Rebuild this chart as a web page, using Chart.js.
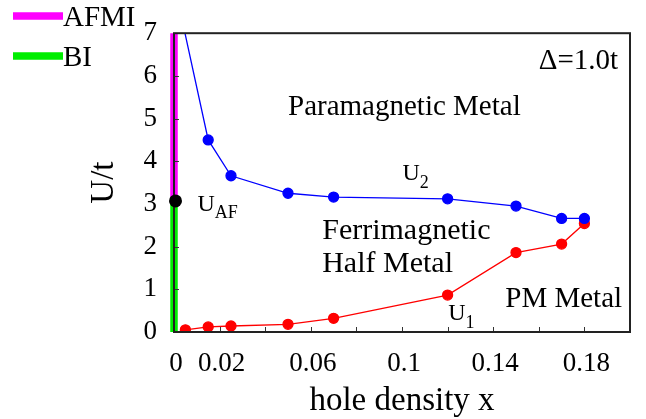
<!DOCTYPE html>
<html>
<head>
<meta charset="utf-8">
<script src="https://cdn.jsdelivr.net/npm/chart.js@4/dist/chart.umd.min.js"></script>
<style>
html,body{margin:0;padding:0;background:#fff;}
#wrap{width:646px;height:419px;}
</style>
</head>
<body>
<div id="wrap"><canvas id="c" width="646" height="419"></canvas></div>
<script>
// ---- data ----
const holeU2 = [0.004, 0.015, 0.025, 0.05, 0.07, 0.12, 0.15, 0.17, 0.18];
const valU2  = [7.2, 4.5, 3.66, 3.25, 3.16, 3.12, 2.95, 2.66, 2.66];
const holeU1 = [0.005, 0.015, 0.025, 0.05, 0.07, 0.12, 0.15, 0.17, 0.18];
const valU1  = [0.05, 0.12, 0.14, 0.18, 0.32, 0.865, 1.86, 2.06, 2.54];
const uAF = 3.07;
const uMax = 7;
const xTickValues = [0, 0.02, 0.04, 0.06, 0.08, 0.1, 0.12, 0.14, 0.16, 0.18, 0.2];
const xTickLabels = ['0', '0.02', '0.06', '0.1', '0.14', '0.18'];
const yTickValues = [0, 1, 2, 3, 4, 5, 6, 7];

const FONT = "'Liberation Serif', 'Times New Roman', serif";

const toPts = (xs, ys) => xs.map((x, i) => ({x: x, y: ys[i]}));

const frameAndText = {
  id: 'frameAndText',
  afterDatasetsDraw(chart) {
    const {ctx, chartArea: a, scales: {x, y}} = chart;
    ctx.save();
    // inward ticks
    ctx.strokeStyle = '#333';
    ctx.lineWidth = 1;
    ctx.beginPath();
    xTickValues.forEach(v => {
      if (v <= 0 || v >= 0.2) return;
      const px = Math.round(x.getPixelForValue(v)) + 0.5;
      ctx.moveTo(px, a.bottom); ctx.lineTo(px, a.bottom - 5);
    });
    yTickValues.forEach(v => {
      if (v <= 0 || v >= uMax) return;
      const py = Math.round(y.getPixelForValue(v)) + 0.5;
      ctx.moveTo(a.left, py); ctx.lineTo(a.left + 5, py);
    });
    ctx.stroke();
    // frame
    ctx.strokeStyle = '#222';
    ctx.lineWidth = 2;
    ctx.strokeRect(a.left, a.top, a.right - a.left, a.bottom - a.top);

    // black U_AF point on top
    ctx.fillStyle = '#000';
    ctx.beginPath();
    ctx.arc(x.getPixelForValue(0) + 1.5, y.getPixelForValue(uAF), 6.5, 0, Math.PI * 2);
    ctx.fill();

    // annotations
    ctx.fillStyle = '#000';
    ctx.textBaseline = 'alphabetic';
    ctx.textAlign = 'left';
    const txt = (s, vx, vy, size) => {
      ctx.font = size + 'px ' + FONT;
      ctx.fillText(s, x.getPixelForValue(vx), y.getPixelForValue(vy));
    };
    const sub = (main, s, vx, vy, size, subSize, drop) => {
      ctx.font = size + 'px ' + FONT;
      const px = x.getPixelForValue(vx), py = y.getPixelForValue(vy);
      ctx.fillText(main, px, py);
      const w = ctx.measureText(main).width;
      ctx.font = subSize + 'px ' + FONT;
      ctx.fillText(s, px + w, py + drop);
    };
    txt('Paramagnetic Metal', 0.05, 5.095, 29);
    txt('\u0394=1.0t', 0.160, 6.17, 29);
    txt('Ferrimagnetic', 0.065, 2.187, 30);
    txt('Half Metal', 0.065, 1.407, 30);
    txt('PM Metal', 0.1453, 0.58, 29);
    sub('U', '2', 0.1002, 3.565, 24, 18, 8);
    sub('U', 'AF', 0.0103, 2.846, 24, 18, 7);
    sub('U', '1', 0.1203, 0.275, 24, 18, 8);

    // legend (outside plot, top-left)
    const legendItems = chart.data.datasets.filter(d => d.showInLegend);
    legendItems.forEach((d, i) => {
      const cy = 16 + i * 40;
      ctx.strokeStyle = d.borderColor;
      ctx.lineWidth = 7.5;
      ctx.lineCap = 'butt';
      ctx.beginPath(); ctx.moveTo(13, cy); ctx.lineTo(63, cy); ctx.stroke();
      ctx.fillStyle = '#000';
      ctx.font = '29px ' + FONT;
      ctx.fillText(d.label, 63, cy + 10);
    });
    ctx.restore();
  }
};

new Chart(document.getElementById('c'), {
  type: 'scatter',
  data: {
    datasets: [
      {
        label: 'U2', data: toPts(holeU2, valU2), showLine: true,
        borderColor: '#0000ff', backgroundColor: '#0000ff', borderWidth: 1.3,
        pointRadius: 5, pointHoverRadius: 5, order: 1
      },
      {
        label: 'U1', data: toPts(holeU1, valU1), showLine: true,
        borderColor: '#ff0000', backgroundColor: '#ff0000', borderWidth: 1.3,
        pointRadius: 5, pointHoverRadius: 5, order: 2
      },
      {
        label: 'AFMI', showInLegend: true, data: [{x: 0, y: uAF}, {x: 0, y: uMax}], showLine: true,
        borderColor: '#ff00ff', borderWidth: 7.5, pointRadius: 0, clip: false, order: 3
      },
      {
        label: 'BI', showInLegend: true, data: [{x: 0, y: 0}, {x: 0, y: uAF}], showLine: true,
        borderColor: '#00ee00', borderWidth: 7.5, pointRadius: 0, clip: false, order: 4
      }
    ]
  },
  options: {
    responsive: false,
    animation: false,
    events: [],
    layout: {padding: {left: 0, right: 15, top: 27, bottom: 0}},
    plugins: {legend: {display: false}, tooltip: {enabled: false}},
    scales: {
      x: {
        type: 'linear', min: 0, max: 0.2,
        afterBuildTicks: s => { s.ticks = xTickValues.map(v => ({value: v})); },
        afterFit: s => { s.height = 87; },
        grid: {display: false, drawTicks: false},
        border: {display: false},
        ticks: {
          padding: 16, color: '#000', font: {family: FONT, size: 27},
          maxRotation: 0, autoSkip: false, labelOffset: 2,
          callback: v => { const l = xTickLabels.find(t => Math.abs(parseFloat(t) - v) < 1e-9); return l === undefined ? '' : l; }
        },
        title: {display: true, text: 'hole density x', color: '#000', font: {family: FONT, size: 33}, padding: {top: 0, bottom: -2}}
      },
      y: {
        type: 'linear', min: 0, max: uMax,
        afterBuildTicks: s => { s.ticks = yTickValues.map(v => ({value: v})); },
        afterFit: s => { s.width = 174; },
        grid: {display: false, drawTicks: false},
        border: {display: false},
        ticks: {padding: 17, color: '#000', font: {family: FONT, size: 27}, callback: v => String(v)},
        title: {display: true, text: 'U/t', color: '#000', font: {family: FONT, size: 33}, padding: {top: 85, bottom: 0}}
      }
    }
  },
  plugins: [frameAndText]
});
</script>
</body>
</html>
